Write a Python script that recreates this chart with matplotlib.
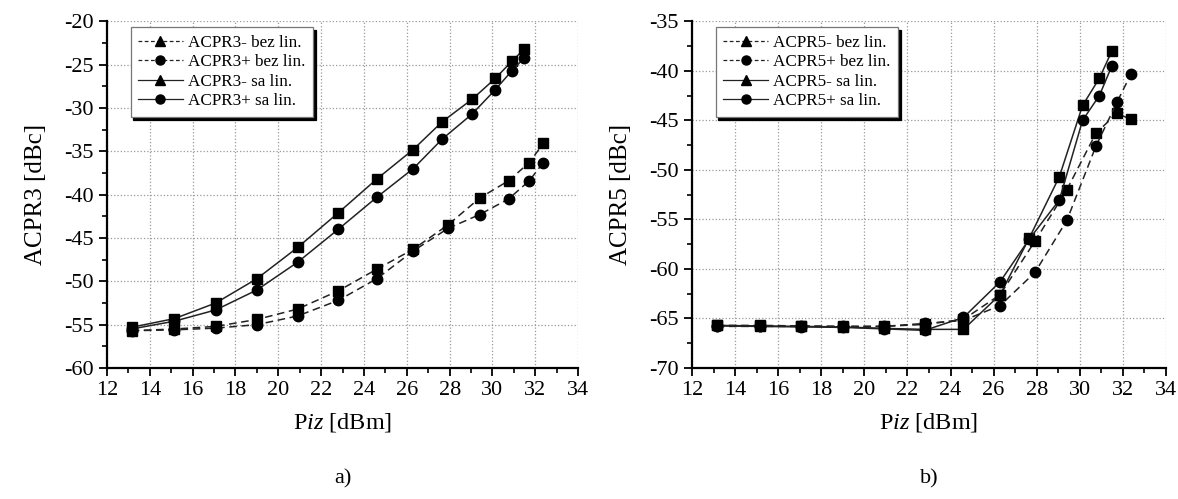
import matplotlib
matplotlib.use("Agg")
import matplotlib.pyplot as plt
from matplotlib.lines import Line2D
from matplotlib.ticker import MultipleLocator

plt.rcParams["font.family"] = ["Liberation Serif", "DejaVu Serif"]
plt.rcParams["mathtext.fontset"] = "custom"
plt.rcParams["mathtext.rm"] = "Liberation Serif"
plt.rcParams["mathtext.it"] = "Liberation Serif:italic"
plt.rcParams["axes.unicode_minus"] = False

# Output power points [dBm]
p_bez = [13.15, 15.15, 17.08, 19.0, 20.9, 22.8, 24.6, 26.3, 27.92, 29.4, 30.75, 31.72, 32.37]
p_sa = [13.15, 15.15, 17.08, 19.0, 20.9, 22.8, 24.6, 26.3, 27.65, 29.05, 30.13, 30.91, 31.49]

# a) ACPR3 [dBc]
acpr3_minus_bez = [-55.7, -55.5, -55.2, -54.4, -53.2, -51.1, -48.6, -46.3, -43.5, -40.4, -38.4, -36.3, -34.1]
acpr3_plus_bez = [-55.7, -55.6, -55.4, -55.0, -54.0, -52.2, -49.7, -46.5, -43.9, -42.3, -40.5, -38.4, -36.3]
acpr3_minus_sa = [-55.3, -54.3, -52.5, -49.7, -46.1, -42.1, -38.2, -34.8, -31.6, -29.0, -26.6, -24.6, -23.2]
acpr3_plus_sa = [-55.5, -54.6, -53.3, -51.0, -47.8, -44.0, -40.3, -37.0, -33.6, -30.7, -27.9, -25.7, -24.2]

# b) ACPR5 [dBc]
acpr5_minus_bez = [-65.7, -65.7, -65.75, -65.8, -65.8, -65.6, -65.1, -62.6, -57.2, -52.0, -46.3, -44.3, -44.9]
acpr5_plus_bez = [-65.8, -65.8, -65.8, -65.8, -65.8, -65.5, -65.2, -63.7, -60.35, -55.1, -47.6, -43.2, -40.35]
acpr5_minus_sa = [-65.7, -65.75, -65.8, -65.85, -66.0, -66.1, -66.1, -62.6, -56.9, -50.7, -43.5, -40.75, -38.0]
acpr5_plus_sa = [-65.75, -65.8, -65.85, -65.9, -66.05, -66.2, -64.9, -61.3, -57.0, -53.05, -45.0, -42.5, -39.5]

panels = [
    {"n": "3", "ylim": (-60, -20), "pos": [0.0908, 0.2625, 0.400, 0.695], "cap": "a)",
     "series": [acpr3_minus_bez, acpr3_plus_bez, acpr3_minus_sa, acpr3_plus_sa]},
    {"n": "5", "ylim": (-70, -35), "pos": [0.5874, 0.2625, 0.4024, 0.695], "cap": "b)",
     "series": [acpr5_minus_bez, acpr5_plus_bez, acpr5_minus_sa, acpr5_plus_sa]},
]

fig = plt.figure(figsize=(11.78, 4.99), dpi=100)

for pan in panels:
    ax = fig.add_axes(pan["pos"])
    mb, pb, ms, ps = pan["series"]
    lc = "#222222"
    ax.plot(p_bez, mb, ls=(0, (5, 3)), color=lc, lw=1.1, marker="s", ms=7, mfc="k", mec="k", zorder=3)
    ax.plot(p_bez, pb, ls=(0, (5, 3)), color=lc, lw=1.1, marker="o", ms=7.5, mfc="k", mec="k", zorder=3)
    ax.plot(p_sa, ms, ls="-", color=lc, lw=1.1, marker="s", ms=7, mfc="k", mec="k", zorder=3)
    ax.plot(p_sa, ps, ls="-", color=lc, lw=1.1, marker="o", ms=7.5, mfc="k", mec="k", zorder=3)

    ax.set_xlim(12, 34)
    ax.set_ylim(*pan["ylim"])
    ax.xaxis.set_major_locator(MultipleLocator(2))
    ax.xaxis.set_minor_locator(MultipleLocator(1))
    ax.yaxis.set_major_locator(MultipleLocator(5))
    ax.yaxis.set_minor_locator(MultipleLocator(2.5))
    ax.grid(True, which="major", ls=":", color="#999999", lw=0.9)
    ax.set_axisbelow(True)
    for side in ("top", "right"):
        ax.spines[side].set_visible(False)
    for side in ("left", "bottom"):
        ax.spines[side].set_linewidth(1.6)
    ax.tick_params(which="major", direction="out", length=6, width=1.3, labelsize=16)
    ax.tick_params(which="minor", direction="out", length=3.5, width=1.2)

    ax.set_xlabel(r"P$\mathit{iz}$ [dBm]", fontsize=17.5, labelpad=8)
    ax.set_ylabel("ACPR" + pan["n"] + " [dBc]", fontsize=18, labelpad=12)

    n = pan["n"]
    handles = [
        Line2D([], [], ls=(0, (3, 2)), color=lc, lw=0.9, marker="^", ms=6.5, mfc="k", mec="k"),
        Line2D([], [], ls=(0, (3, 2)), color=lc, lw=0.9, marker="o", ms=6.5, mfc="k", mec="k"),
        Line2D([], [], ls="-", color=lc, lw=0.9, marker="^", ms=6.5, mfc="k", mec="k"),
        Line2D([], [], ls="-", color=lc, lw=0.9, marker="o", ms=6.5, mfc="k", mec="k"),
    ]
    labels = ["ACPR" + n + "- bez lin.", "ACPR" + n + "+ bez lin.",
              "ACPR" + n + "- sa lin.", "ACPR" + n + "+ sa lin."]
    leg = ax.legend(handles, labels, loc="upper left", bbox_to_anchor=(0.05, 0.983),
                    borderaxespad=0, fontsize=12.3, frameon=True, fancybox=False,
                    framealpha=1, edgecolor="#777777", handlelength=2.6,
                    handletextpad=0.3, labelspacing=0.2, borderpad=0.45,
                    shadow={"facecolor": "k", "edgecolor": "k", "alpha": 1})
    leg.get_frame().set_linewidth(0.9)
    leg.set_zorder(5)

    cx = pan["pos"][0] + pan["pos"][2] / 2
    fig.text(cx, 0.04, pan["cap"], ha="center", va="center", fontsize=16)

fig.savefig("out.png", dpi=100)
